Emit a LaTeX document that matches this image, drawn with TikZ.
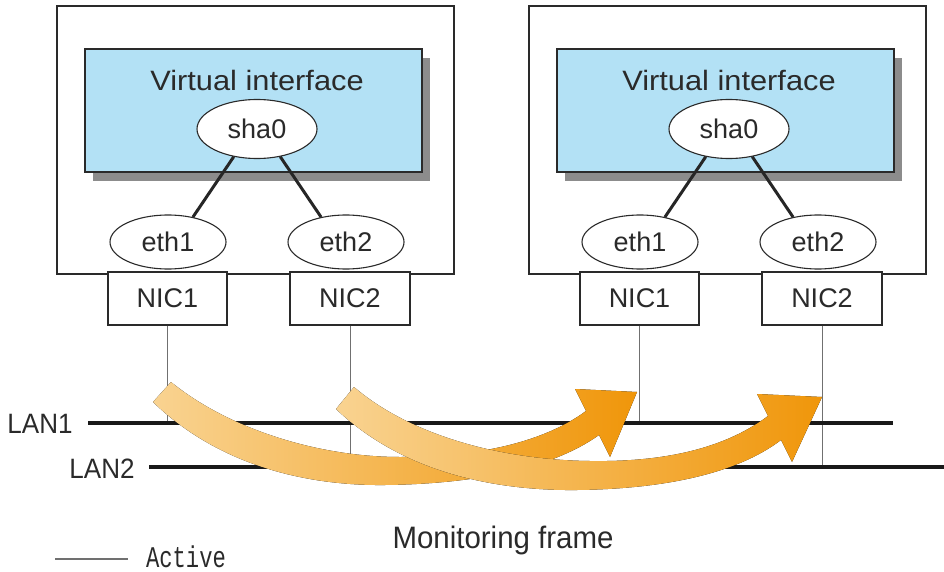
\documentclass[tikz,border=0pt]{standalone}
\usepackage{fontspec}
\setmainfont{Liberation Sans}
\setmonofont{Liberation Mono}
\usepackage{tikz}
\usetikzlibrary{shapes.geometric,shadows}
\definecolor{VirtBlue}{HTML}{B3E1F5}
\definecolor{FrameLight}{HTML}{F9D391}
\definecolor{FrameDark}{HTML}{F0960A}
\definecolor{InkGray}{HTML}{2A2A2A}
\definecolor{WireGray}{HTML}{707070}

\begin{document}
\begin{tikzpicture}[x=1pt,y=-1pt,
  hostbox/.style={draw=InkGray,line width=1.2pt,inner sep=0,minimum width=397pt,minimum height=268pt},
  virtbox/.style={draw=InkGray,line width=1.2pt,fill=VirtBlue,inner sep=0,minimum width=337pt,minimum height=123pt,
    drop shadow={shadow xshift=8pt,shadow yshift=-9pt,fill=black!45,opacity=1}},
  ifell/.style={ellipse,draw=InkGray,line width=1.1pt,fill=white,inner sep=0,text=InkGray,font=\fontsize{27}{32}\selectfont},
  nicbox/.style={draw=InkGray,line width=1.1pt,fill=white,inner sep=0,minimum width=119pt,minimum height=53pt,text=InkGray,font=\fontsize{27}{32}\selectfont},
  bond/.style={line width=3pt,black!85},
  wire/.style={line width=0.9pt,WireGray},
  lanline/.style={line width=4.5pt,black!90},
  frame/.style={left color=FrameLight,right color=FrameDark},
  lbl/.style={text=InkGray,inner sep=0}]
\useasboundingbox (0,0) rectangle (944,572);

\coordinate (lan1w) at (88,423);
\coordinate (lan1e) at (893,423);
\coordinate (lan2w) at (149,467);
\coordinate (lan2e) at (944,467);

% two hosts, right one shifted
\foreach \h/\dx in {A/0,B/472}{
  \node[hostbox] (host\h) at (255.5+\dx,140) {};
  \node[virtbox] (virt\h) at (253.5+\dx,110.5) {};
  \node[lbl,font=\fontsize{28}{32}\selectfont,xscale=1.1] (vlbl\h) at (257+\dx,80) {Virtual interface};
  \node[ifell,minimum width=120pt,minimum height=59pt] (sha\h) at (257+\dx,129) {sha0};
  \node[ifell,minimum width=116pt,minimum height=54pt] (ethA\h) at (168+\dx,242) {eth1};
  \node[ifell,minimum width=116pt,minimum height=54pt] (ethB\h) at (346+\dx,242) {eth2};
  \draw[bond] (sha\h.-130) -- (ethA\h.45);
  \draw[bond] (sha\h.-50) -- (ethB\h.135);
  \node[nicbox] (nicA\h) at (167.5+\dx,298.5) {NIC1};
  \node[nicbox,minimum width=120pt] (nicB\h) at (350+\dx,298.5) {NIC2};
  \draw[wire] (nicA\h) -- (nicA\h |- lan1w);
  \draw[wire] (nicB\h) -- (nicB\h |- lan2w);
}

\draw[lanline] (lan1w) -- (lan1e);
\draw[lanline] (lan2w) -- (lan2e);

% monitoring frames
\fill[frame] (153,402) .. controls (215,462) and (300,486) .. (385,485)
  .. controls (470,484) and (550,470) .. (599,435) -- (610,457) -- (637,392) -- (575,389) -- (586,411)
  .. controls (540,445) and (470,457) .. (400,457) .. controls (320,457) and (230,430) .. (171,382) -- cycle;
\fill[frame] (336,409) .. controls (400,470) and (490,491) .. (577,490)
  .. controls (660,489) and (735,475) .. (781,440) -- (792,462) -- (822,397) -- (757,394) -- (768,416)
  .. controls (720,452) and (655,462) .. (590,461) .. controls (500,460) and (410,435) .. (354,387) -- cycle;

\node[lbl,font=\fontsize{28}{32}\selectfont,xscale=0.93] (lan1lbl) at (40,424) {LAN1};
\node[lbl,font=\fontsize{28}{32}\selectfont,xscale=0.93] (lan2lbl) at (102,469) {LAN2};
\node[lbl,font=\fontsize{31}{36}\selectfont,xscale=0.95] (monlbl) at (503,540) {Monitoring frame};
\node[lbl,font=\ttfamily\fontsize{30}{34}\selectfont,xscale=0.74] (actlbl) at (186,557) {Active};
\coordinate (actw) at (55,559);
\draw[wire,line width=1.5pt] (actw) -- ([xshift=-18pt]actw -| actlbl.west);
\end{tikzpicture}
\end{document}
